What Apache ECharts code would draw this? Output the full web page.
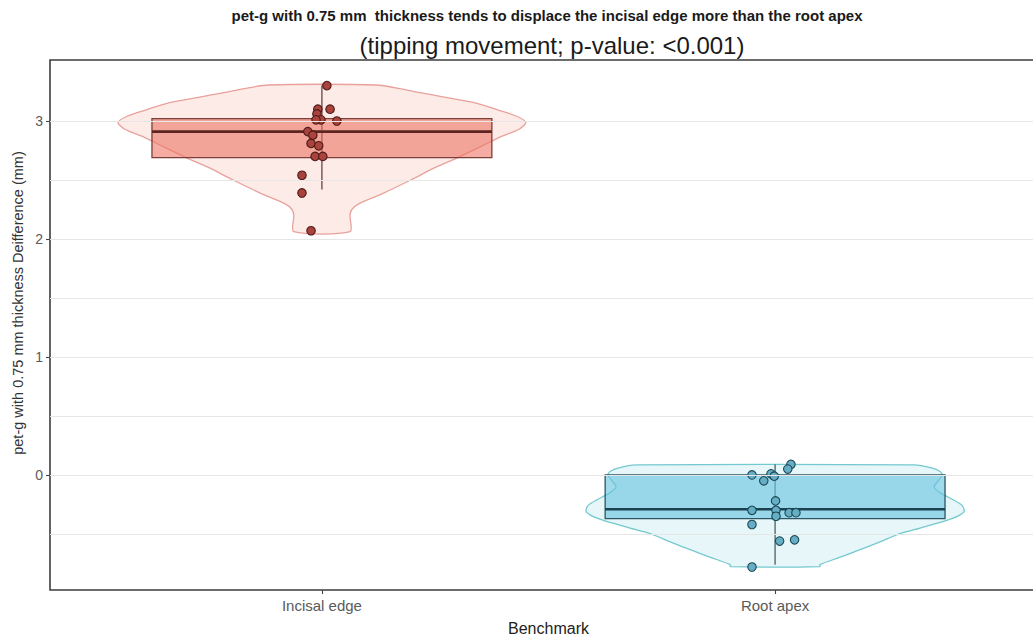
<!DOCTYPE html>
<html>
<head>
<meta charset="utf-8">
<title>pet-g 0.75 mm tipping movement</title>
<script src="https://cdn.jsdelivr.net/npm/echarts@6/dist/echarts.min.js"></script>
<style>
  html, body { margin: 0; padding: 0; background: #ffffff; }
  #chart { width: 1033px; height: 641px; }
</style>
</head>
<body>
<div id="chart"></div>
<script>
// Benchmarks on the x axis
const categories = ['Incisal edge', 'Root apex'];

// Measured displacement differences (mm) for each benchmark
const incisalValues = [3.30, 3.10, 3.10, 3.06, 3.01, 3.01, 3.00, 2.91, 2.88, 2.81, 2.79, 2.70, 2.70, 2.54, 2.39, 2.07];
const rootValues = [0.09, 0.05, 0.00, 0.01, -0.01, -0.05, -0.22, -0.30, -0.30, -0.35, -0.32, -0.32, -0.42, -0.56, -0.55, -0.78];

// Horizontal jitter of each point, in category units
const incisalJitter = [0.011, -0.009, 0.018, -0.011, -0.002, -0.013, 0.033, -0.031, -0.020, -0.024, -0.007, -0.015, 0.002, -0.044, -0.044, -0.024];
const rootJitter = [0.035, 0.028, -0.051, -0.009, -0.002, -0.025, 0.001, -0.051, 0.002, 0.002, 0.031, 0.046, -0.051, 0.010, 0.043, -0.051];

// Box statistics: [lower whisker, Q1, median, Q3, upper whisker]
const incisalBox = [2.42, 2.69, 2.91, 3.02, 3.30];
const rootBox = [-0.76, -0.37, -0.29, 0.00, 0.09];

// Violin outlines: [value, half width in category units], top to bottom
const incisalViolin = [[3.305, 0.119], [3.26, 0.19], [3.206, 0.263], [3.15, 0.342], [3.093, 0.389], [3.04, 0.43], [2.986, 0.450], [2.93, 0.435], [2.867, 0.395], [2.78, 0.349], [2.69, 0.300], [2.60, 0.247], [2.50, 0.196], [2.387, 0.135], [2.30, 0.082], [2.25, 0.066], [2.20, 0.062], [2.062, 0.062]];
const rootViolin = [[0.085, 0.307], [0.06, 0.345], [0.03, 0.364], [0.0, 0.369], [-0.05, 0.36], [-0.10, 0.351], [-0.15, 0.364], [-0.21, 0.393], [-0.26, 0.413], [-0.31, 0.417], [-0.36, 0.397], [-0.40, 0.366], [-0.45, 0.32], [-0.50, 0.274], [-0.57, 0.23], [-0.64, 0.183], [-0.70, 0.141], [-0.76, 0.099], [-0.777, 0.099]];

// Axis ticks and grid breaks
const yTickValues = [0, 1, 2, 3];
const gridBreaks = [-0.5, 0, 0.5, 1, 1.5, 2, 2.5, 3];

const titleMain = 'pet-g with 0.75 mm  thickness tends to displace the incisal edge more than the root apex';
const titleSub = '(tipping movement; p-value: <0.001)';
const yTitle = 'pet-g with 0.75 mm thickness Deifference (mm)';
const xTitle = 'Benchmark';

const groups = [
  { pos: 1, values: incisalValues, jitter: incisalJitter, box: incisalBox, violin: incisalViolin,
    violinFill: '#fdebe8', violinLine: '#e9a19b', boxFill: 'rgba(236,112,96,0.58)', boxLine: '#7d3f3a',
    median: '#5e2421', whisker: '#6b4542', point: '#a9433c', pointLine: '#4e1a18' },
  { pos: 2, values: rootValues, jitter: rootJitter, box: rootBox, violin: rootViolin,
    violinFill: '#e6f6f9', violinLine: '#74c9cf', boxFill: 'rgba(104,196,222,0.62)', boxLine: '#2d5561',
    median: '#1b4250', whisker: '#4a6166', point: '#66aec4', pointLine: '#1c4755' }
];

const chart = echarts.init(document.getElementById('chart'), null, { renderer: 'svg' });

const series = [];

// light grid lines
series.push({
  type: 'line', data: [], z: 1, silent: true,
  markLine: {
    silent: true, symbol: 'none', animation: false,
    label: { show: false },
    lineStyle: { color: '#e6e6e6', width: 1.1, type: 'solid' },
    data: gridBreaks.map(v => ({ yAxis: v }))
  }
});

groups.forEach(g => {
  // violin
  series.push({
    type: 'custom', z: 2, silent: true,
    data: [0],
    renderItem: (params, api) => {
      const right = g.violin.map(([v, w]) => api.coord([g.pos + w, v]));
      const left = g.violin.slice().reverse().map(([v, w]) => api.coord([g.pos - w, v]));
      return {
        type: 'polygon',
        shape: { points: right.concat(left), smooth: 0.25 },
        style: { fill: g.violinFill, stroke: g.violinLine, lineWidth: 1.3 }
      };
    }
  });
  // whisker, box and median
  series.push({
    type: 'custom', z: 3, silent: true,
    data: [0],
    renderItem: (params, api) => {
      const [lo, q1, med, q3, hi] = g.box;
      const top = api.coord([g.pos, hi]);
      const bottom = api.coord([g.pos, lo]);
      const tl = api.coord([g.pos - 0.375, q3]);
      const br = api.coord([g.pos + 0.375, q1]);
      const ml = api.coord([g.pos - 0.375, med]);
      const mr = api.coord([g.pos + 0.375, med]);
      return {
        type: 'group',
        children: [
          { type: 'line', shape: { x1: top[0], y1: top[1], x2: bottom[0], y2: bottom[1] },
            style: { stroke: g.whisker, lineWidth: 1.3 } },
          { type: 'rect', shape: { x: tl[0], y: tl[1], width: br[0] - tl[0], height: br[1] - tl[1] },
            style: { fill: g.boxFill, stroke: g.boxLine, lineWidth: 1.3 } },
          { type: 'line', shape: { x1: ml[0], y1: ml[1], x2: mr[0], y2: mr[1] },
            style: { stroke: g.median, lineWidth: 2.6 } }
        ]
      };
    }
  });
  // jittered observations
  series.push({
    type: 'scatter', z: 4, silent: true,
    symbolSize: 8.5,
    itemStyle: { color: g.point, borderColor: g.pointLine, borderWidth: 1.1, opacity: 1 },
    data: g.values.map((v, i) => [g.pos + g.jitter[i], v])
  });
});

chart.setOption({
  animation: false,
  backgroundColor: '#ffffff',
  title: [
    { text: titleMain, left: 542, top: 3, textAlign: 'center',
      textStyle: { fontFamily: 'Liberation Sans, Arial, sans-serif', fontSize: 15, fontWeight: 'bold', color: '#1a1a1a' } },
    { text: titleSub, left: 547, top: 28, textAlign: 'center',
      textStyle: { fontFamily: 'Liberation Sans, Arial, sans-serif', fontSize: 24, fontWeight: 'normal', color: '#1a1a1a' } }
  ],
  grid: { left: 50, top: 60, width: 997, height: 530, outerBoundsMode: 'none', containLabel: false,
    show: true, borderColor: '#3d3d3d', borderWidth: 1.6, backgroundColor: 'transparent' },
  xAxis: {
    type: 'value', min: 0.4, max: 2.6,
    name: xTitle, nameLocation: 'middle', nameGap: 30,
    nameTextStyle: { fontFamily: 'Liberation Sans, Arial, sans-serif', fontSize: 16, color: '#222222' },
    axisLine: { show: false, onZero: false },
    axisTick: { show: true, length: 4, customValues: [1, 2], lineStyle: { color: '#444444', width: 1.1 } },
    axisLabel: { customValues: [1, 2], margin: 8, formatter: v => categories[Math.round(v) - 1] || '',
      fontFamily: 'Liberation Sans, Arial, sans-serif', fontSize: 15, color: '#5a5a5a' },
    splitLine: { show: false }
  },
  yAxis: {
    type: 'value', min: -0.975, max: 3.517,
    axisLine: { show: false, onZero: false },
    axisTick: { show: true, length: 4, customValues: yTickValues, lineStyle: { color: '#444444', width: 1.1 } },
    axisLabel: { customValues: yTickValues, margin: 7,
      fontFamily: 'Liberation Sans, Arial, sans-serif', fontSize: 14, color: '#5a5a5a' },
    splitLine: { show: false }
  },
  graphic: [
    { type: 'text', x: 18, y: 303, rotation: Math.PI / 2,
      style: { text: yTitle, textAlign: 'center', textVerticalAlign: 'middle',
        fontFamily: 'Liberation Sans, Arial, sans-serif', fontSize: 14.5, fill: '#333333' } }
  ],
  series: series
});
</script>
</body>
</html>
